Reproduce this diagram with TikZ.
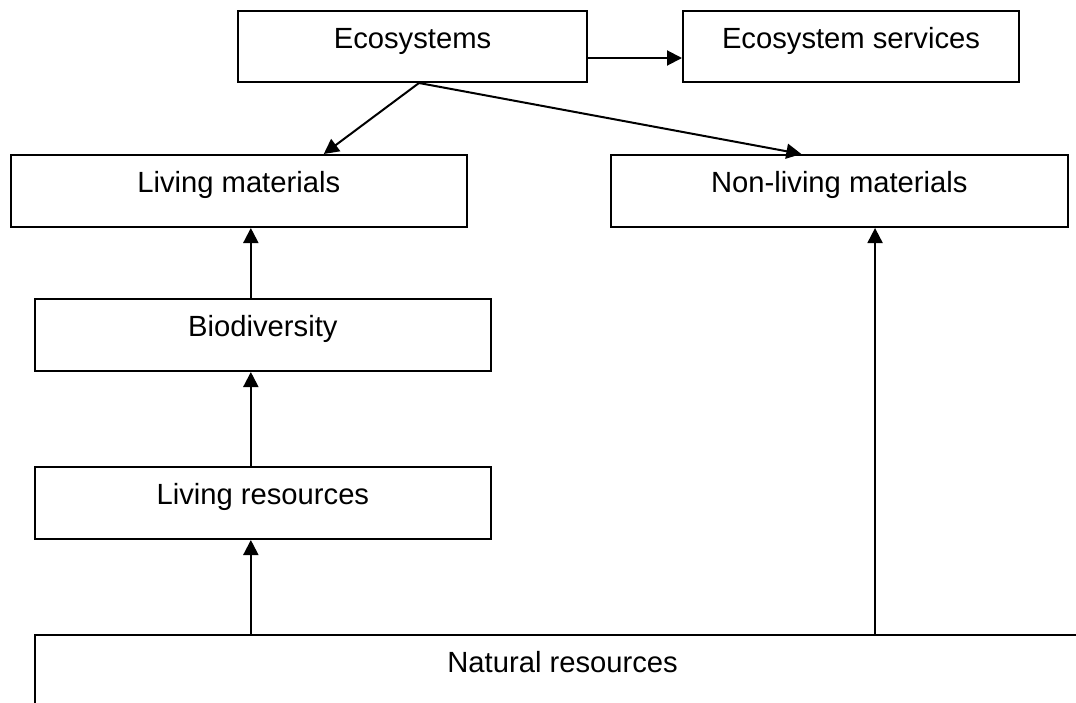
\documentclass[tikz,border=0pt]{standalone}
\usepackage{fontspec}
\setmainfont{Liberation Sans}
\usetikzlibrary{arrows.meta}
\begin{document}
\begin{tikzpicture}[x=1pt,y=-1pt,
  box/.style n args={2}{draw, line width=2pt, rectangle, anchor=north west,
    inner xsep=0pt, inner ysep=0pt, minimum width=#1, text height=37.7pt,
    text depth=#2, font=\fontsize{29.2}{35}\selectfont},
  arr/.style={line width=2pt, -{Triangle[length=15pt,width=15pt]}}]
\useasboundingbox (0,0) rectangle (1076,702);
\clip (0,0) rectangle (1076,702);
\fill[white] (0,0) rectangle (1076,702);
\node[box={349pt}{33.3pt}] (eco) at (237,10) {Ecosystems};
\node[box={336pt}{33.3pt}] (ecs) at (682,10) {Ecosystem services};
\node[box={456.5pt}{34.3pt}] (lm) at (9.5,154) {Living materials};
\node[box={456.7pt}{34.3pt}] (nlm) at (610,154) {Non-living materials};
\node[box={456.3pt}{34.3pt}] (bio) at (33.7,298) {Biodiversity};
\node[box={456.3pt}{34.3pt}] (lr) at (33.7,466) {Living resources};
\node[box={1055.8pt}{34.3pt}] (nr) at (33.7,634) {Natural resources};
\draw[arr] ([yshift=-48pt]eco.north east) -- ([yshift=-48pt]ecs.north west);
\draw[arr] ([xshift=6.5pt]eco.south) -- ([xshift=85pt]lm.north);
\draw[arr] ([xshift=6.5pt]eco.south) -- ([xshift=-38pt]nlm.north);
\draw[arr] ([xshift=-12pt]bio.north) -- ([xshift=-12pt]bio.north |- lm.south);
\draw[arr] ([xshift=-12pt]lr.north) -- ([xshift=-12pt]lr.north |- bio.south);
\draw[arr] ([xshift=-12pt]lr.south |- nr.north) -- ([xshift=-12pt]lr.south);
\draw[arr] ([xshift=35.7pt]nlm.south |- nr.north) -- ([xshift=35.7pt]nlm.south);
\end{tikzpicture}
\end{document}
